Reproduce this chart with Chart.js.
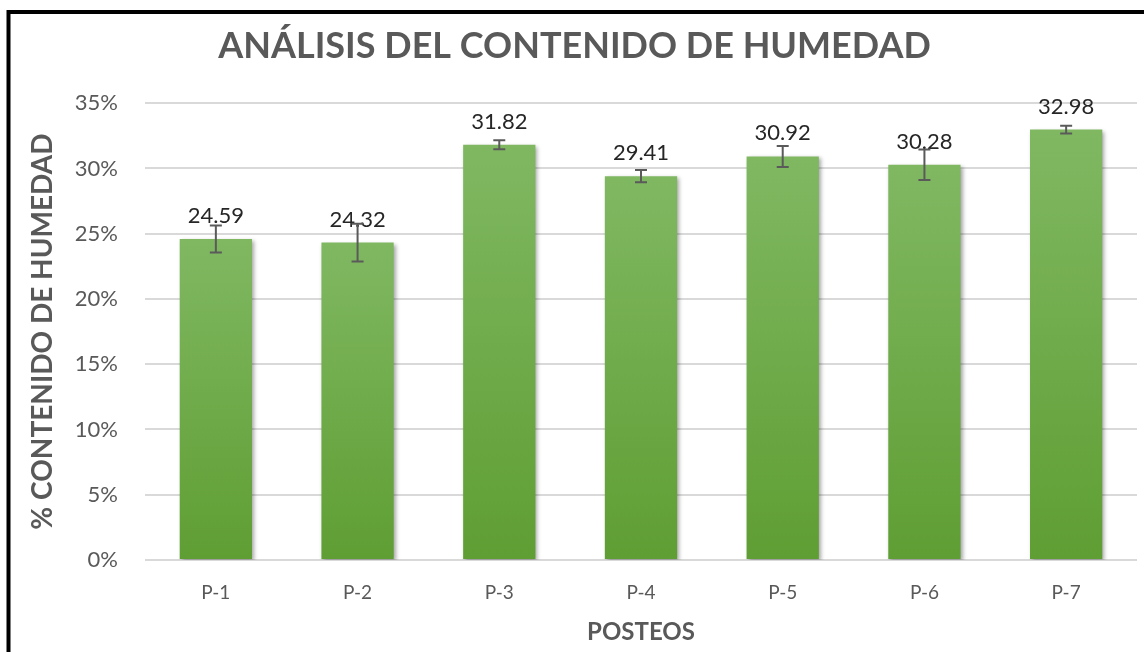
<!DOCTYPE html>
<html>
<head>
<meta charset="utf-8">
<script src="https://cdn.jsdelivr.net/npm/chart.js@4.4.1/dist/chart.umd.min.js"></script>
<style>
html,body{margin:0;padding:0;background:#fff;}
#wrap{width:1144px;height:652px;position:relative;}
</style>
</head>
<body>
<div id="wrap"><canvas id="c" width="1144" height="652"></canvas></div>
<script>
const categories = ['P-1','P-2','P-3','P-4','P-5','P-6','P-7'];
const humidity = [24.59, 24.32, 31.82, 29.41, 30.92, 30.28, 32.98];
const errors = [1.03, 1.45, 0.35, 0.47, 0.8, 1.17, 0.3];
const yTicks = [0, 5, 10, 15, 20, 25, 30, 35];

const FONT = 'Lato, "Open Sans", sans-serif';
const GRAY = '#595959';

const frame = {
  id: 'frame',
  afterDraw(chart) {
    const ctx = chart.ctx;
    ctx.save();
    ctx.strokeStyle = '#000';
    ctx.lineWidth = 4;
    ctx.beginPath();
    ctx.moveTo(1144, 12);
    ctx.lineTo(8.5, 12);
    ctx.lineTo(8.5, 652);
    ctx.stroke();
    ctx.restore();
  }
};

const shadow = {
  id: 'shadow',
  beforeDatasetDraw(chart) {
    const ctx = chart.ctx;
    ctx.save();
    ctx.shadowColor = 'rgba(0,0,0,0.35)';
    ctx.shadowBlur = 4;
    ctx.shadowOffsetX = 2;
    ctx.shadowOffsetY = 2;
  },
  afterDatasetDraw(chart) {
    chart.ctx.restore();
  }
};

const labelsAndErrors = {
  id: 'labelsAndErrors',
  afterDatasetsDraw(chart) {
    const ctx = chart.ctx;
    const meta = chart.getDatasetMeta(0);
    const ys = chart.scales.y;
    ctx.save();
    ctx.font = '22px ' + FONT;
    ctx.fillStyle = '#262626';
    ctx.textAlign = 'center';
    ctx.textBaseline = 'alphabetic';
    meta.data.forEach((bar, i) => {
      ctx.fillText(humidity[i].toFixed(2), bar.x, bar.y - 16);
    });
    ctx.strokeStyle = '#5a5a5a';
    ctx.lineWidth = 2;
    meta.data.forEach((bar, i) => {
      const t = ys.getPixelForValue(humidity[i] + errors[i]);
      const b = ys.getPixelForValue(humidity[i] - errors[i]);
      ctx.beginPath();
      ctx.moveTo(bar.x, t); ctx.lineTo(bar.x, b);
      ctx.moveTo(bar.x - 6, t); ctx.lineTo(bar.x + 6, t);
      ctx.moveTo(bar.x - 6, b); ctx.lineTo(bar.x + 6, b);
      ctx.stroke();
    });
    ctx.restore();
  }
};

function barGradient(context) {
  const chart = context.chart;
  const ys = chart.scales && chart.scales.y;
  if (!chart.chartArea || !ys || context.raw === undefined) return '#70ad47';
  const top = ys.getPixelForValue(context.raw);
  const bottom = ys.getPixelForValue(0);
  const g = chart.ctx.createLinearGradient(0, top, 0, bottom);
  g.addColorStop(0, '#80b862');
  g.addColorStop(1, '#5f9e33');
  return g;
}

new Chart(document.getElementById('c'), {
  type: 'bar',
  data: {
    labels: categories,
    datasets: [{
      data: humidity,
      backgroundColor: barGradient,
      borderWidth: 0,
      barPercentage: 0.51,
      categoryPercentage: 1.0
    }]
  },
  options: {
    responsive: false,
    animation: false,
    devicePixelRatio: 1,
    layout: { padding: { top: 14, left: 12, right: 7, bottom: 0 } },
    plugins: {
      legend: { display: false },
      tooltip: { enabled: false },
      title: {
        display: true,
        text: 'ANÁLISIS DEL CONTENIDO DE HUMEDAD',
        color: GRAY,
        font: { family: FONT, size: 36, weight: 'bold' },
        padding: { top: 11, bottom: 35 }
      }
    },
    scales: {
      x: {
        grid: { display: false },
        border: { display: false },
        ticks: { color: GRAY, font: { family: FONT, size: 19 }, padding: 13 },
        title: {
          display: true,
          text: 'POSTEOS',
          color: GRAY,
          font: { family: FONT, size: 24, weight: 'bold' },
          padding: { top: 0, bottom: 5 }
        },
        afterFit(s) { s.height = 92; }
      },
      y: {
        min: 0,
        max: 35,
        afterBuildTicks(s) { s.ticks = yTicks.map(v => ({ value: v })); },
        grid: { color: '#d9d9d9', lineWidth: 2, drawTicks: false },
        border: { display: false },
        ticks: {
          color: GRAY,
          font: { family: FONT, size: 22 },
          padding: 27,
          callback: v => v + '%'
        },
        title: {
          display: true,
          text: '% CONTENIDO DE HUMEDAD',
          color: GRAY,
          font: { family: FONT, size: 28, weight: 'bold' },
          padding: { top: 14, bottom: 0 }
        },
        afterFit(s) { s.width = 133; }
      }
    }
  },
  plugins: [shadow, labelsAndErrors, frame]
});
</script>
</body>
</html>
